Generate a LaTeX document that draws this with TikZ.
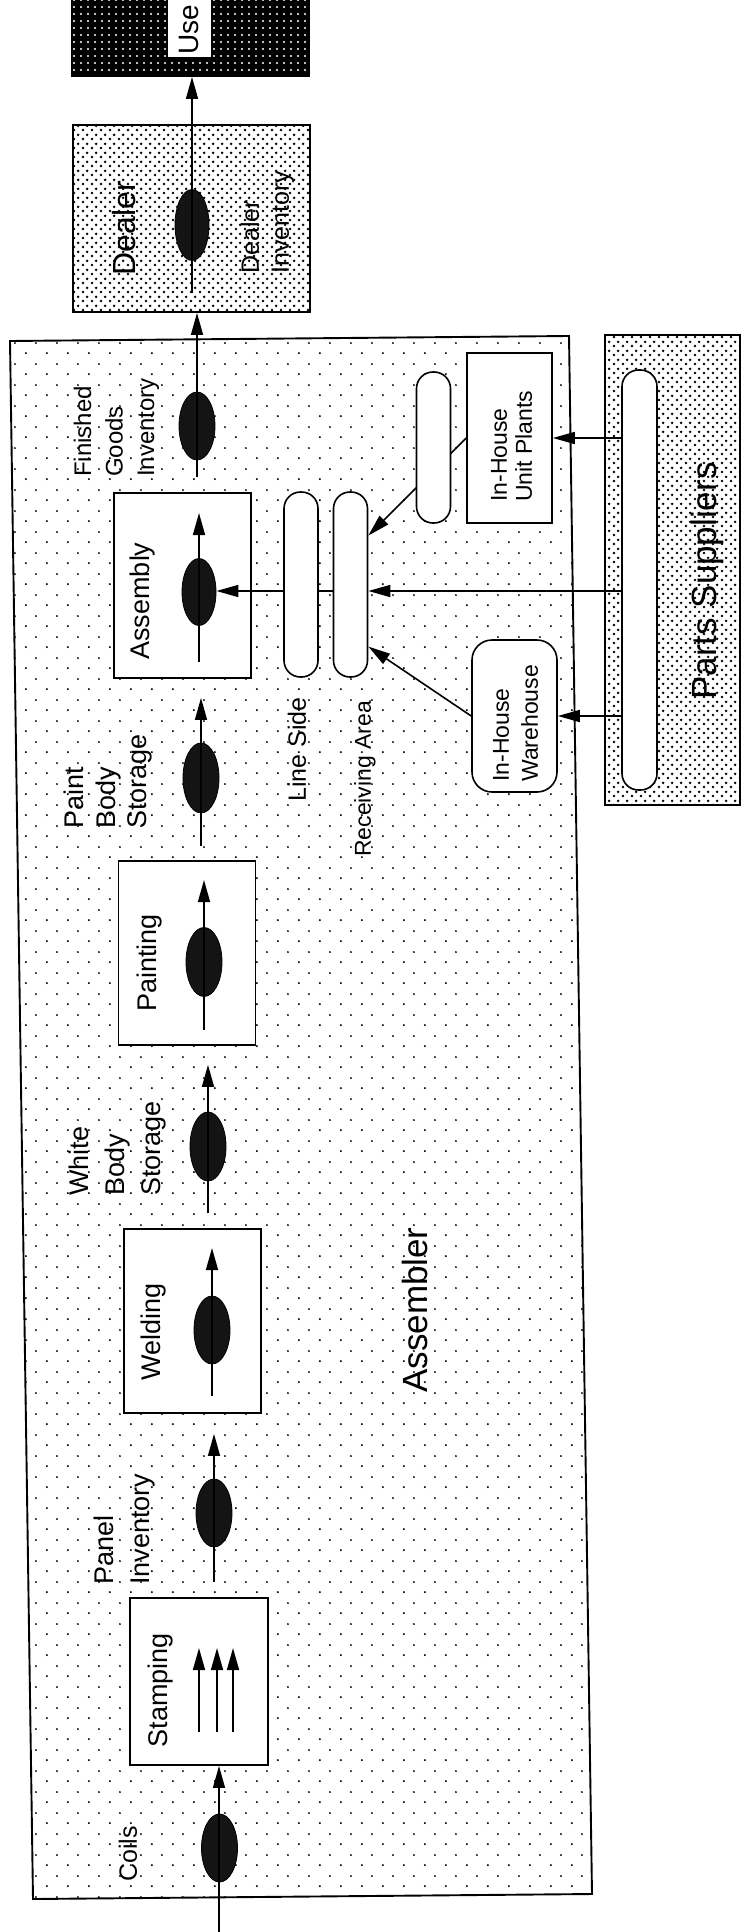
\documentclass[tikz,border=0pt]{standalone}
\usepackage{fontspec}
\setmainfont{Liberation Sans}
\usetikzlibrary{arrows.meta,patterns,shapes.geometric}
\pgfdeclarepatternformonly{sparsedots}{\pgfpointorigin}{\pgfpoint{20.5pt}{20.5pt}}{\pgfpoint{20.5pt}{20.5pt}}{%
  \pgfpathcircle{\pgfpoint{5pt}{5pt}}{1.05pt}\pgfpathcircle{\pgfpoint{15.25pt}{15.25pt}}{1.05pt}\pgfusepath{fill}}
\pgfdeclarepatternformonly{densedots}{\pgfpointorigin}{\pgfpoint{9pt}{9pt}}{\pgfpoint{9pt}{9pt}}{%
  \pgfpathcircle{\pgfpoint{2.25pt}{2.25pt}}{1.55pt}\pgfpathcircle{\pgfpoint{6.75pt}{6.75pt}}{1.55pt}\pgfusepath{fill}}
\pgfdeclarepatternformonly{finedots}{\pgfpointorigin}{\pgfpoint{6.5pt}{6.5pt}}{\pgfpoint{6.5pt}{6.5pt}}{%
  \pgfpathcircle{\pgfpoint{3.25pt}{3.25pt}}{1.2pt}\pgfusepath{fill}}
\newcommand\myfs[2]{\fontsize{#1}{#2}\selectfont}
\begin{document}
\begin{tikzpicture}[x=1pt,y=-1pt,
  flow/.style={line width=1.6pt,-{Triangle[length=22pt,width=12pt]}},
  plain/.style={line width=1.6pt},
  procbox/.style={draw,line width=1.9pt,fill=white,inner sep=0pt,minimum width=137pt},
  inv/.style={ellipse,draw=black,line width=0.8pt,fill=black!92,inner sep=0pt,minimum width=36pt,minimum height=68pt},
  pill/.style={draw,line width=1.6pt,fill=white,rounded corners=16.5pt,inner sep=0pt,minimum width=34pt},
  rlab/.style={rotate=90,align=left,inner sep=0pt,anchor=west},
  clab/.style={rotate=90,align=center,inner sep=0pt},
]
\clip (0,0) rectangle (743,1932);
\fill[white] (0,0) rectangle (743,1932);

% Assembler area
\filldraw[fill=white,line width=1.9pt,postaction={pattern=sparsedots}]
  (10,341) -- (569,336) -- (592,1894) -- (33,1899) -- cycle;

% outer boxes
\node (parts) [draw,line width=1.9pt,fill=white,postaction={pattern=densedots},
  minimum width=135pt,minimum height=470pt,inner sep=0pt] at (672.5,570) {};
\node (dealer) [draw,line width=1.9pt,fill=white,postaction={pattern=densedots},
  minimum width=237pt,minimum height=187pt,inner sep=0pt] at (191.5,218.5) {};
\node (use) [draw,line width=1.9pt,fill=black,postaction={pattern=finedots,pattern color=white},
  minimum width=237pt,minimum height=86pt,inner sep=0pt] at (190.5,33) {};

% process boxes
\node (assembly) [procbox,minimum height=185pt] at (182.5,585.5) {};
\node (painting) [procbox,minimum height=184pt] at (187,953) {};
\node (welding) [procbox,minimum height=184pt] at (192.5,1321) {};
\node (stamping) [procbox,minimum width=138pt,minimum height=167pt] at (199,1681.5) {};

% parts side
\node (lside) [pill,minimum height=185pt] at (301,584.5) {};
\node (recv) [pill,minimum height=185pt] at (350.5,584.5) {};
\node (ppill) [pill,minimum width=35pt,minimum height=420pt] at (639.5,580) {};
\node (unit) [draw,line width=1.6pt,fill=white,minimum width=85pt,minimum height=170pt,inner sep=0pt] at (509.5,438) {};
\node (ware) [draw,line width=1.6pt,fill=white,rounded corners=20pt,minimum width=85pt,minimum height=152pt,inner sep=0pt] at (514.5,716) {};

% inventories
\node (cinv) [inv] at (219.5,1848) {};
\node (pinv) [inv] at (214,1513) {};
\node (winv) [inv] at (212,1330) {};
\node (wbinv) [inv,minimum height=69pt] at (208,1146.5) {};
\node (pnv) [inv,minimum height=69pt] at (204,962) {};
\node (pbinv) [inv,minimum height=70pt] at (201,778) {};
\node (ainv) [inv,minimum width=34pt,minimum height=67pt] at (199,592) {};
\node (fginv) [inv] at (197,426) {};
\node (dinv) [inv,minimum width=34pt,minimum height=71pt] at (192,225) {};

% parts flows
\coordinate (hy) at (0,591);
\draw[flow] (ppill.west |- unit.east) -- (unit.east);
\draw[flow] (ppill.west |- ware.east) -- (ware.east);
\draw[flow] (ppill.west |- hy) -- (recv.east |- hy);
\draw[plain] (recv.west |- hy) -- (lside.east |- hy);
\draw[flow] (lside.west |- hy) -- (ainv.east |- hy);
\draw[flow] (unit.west) -- (recv.70);
\draw[flow] (ware.west) -- (recv.-74);
\node (upill) [pill,minimum height=151pt] at (433.5,447.5) {};

% main flow
\coordinate (ctail) at (219,1940);
\draw[flow] (ctail) -- (ctail |- stamping.south);
\coordinate (ptail) at (214,1582);
\draw[flow,shorten >=20pt] (ptail) -- (ptail |- welding.south);
\coordinate (wtail) at (208,1213);
\draw[flow,shorten >=19pt] (wtail) -- (wtail |- painting.south);
\coordinate (btail) at (201,846);
\draw[flow,shorten >=19pt] (btail) -- (btail |- assembly.south);
\coordinate (ftail) at (197,477);
\draw[flow] (ftail) -- (ftail |- dealer.south);
\coordinate (dtail) at (192,293);
\draw[flow] (dtail) -- (dtail |- use.south);

% arrows inside process boxes
\coordinate (aA) at (199,662); \coordinate (aB) at (199,513);
\draw[flow] (aA) -- (aB);
\coordinate (pA) at (204,1030); \coordinate (pB) at (204,880);
\draw[flow] (pA) -- (pB);
\coordinate (wA) at (212,1396); \coordinate (wB) at (212,1248);
\draw[flow] (wA) -- (wB);
\coordinate (s1A) at (199,1732); \coordinate (s1B) at (199,1648);
\coordinate (s2A) at (217,1732); \coordinate (s2B) at (217,1648);
\coordinate (s3A) at (233,1732); \coordinate (s3B) at (233,1648);
\draw[flow] (s1A) -- (s1B);
\draw[flow] (s2A) -- (s2B);
\draw[flow] (s3A) -- (s3B);

% labels
\node (lcoils) [rlab,font=\myfs{25}{30}] at (128,1882) {Coils};
\node (lpanel) [rlab,font=\myfs{27}{36}] at (125,1585) {Panel\\Inventory};
\node (lstamp) [clab,font=\myfs{27}{30}] at (161,1690) {Stamping};
\node (lweld) [clab,font=\myfs{27}{30}] at (154,1332) {Welding};
\node (lwhite) [rlab,font=\myfs{27}{36}] at (118,1196) {White\\Body\\Storage};
\node (lpaint) [clab,font=\myfs{27}{30}] at (150,963) {Painting};
\node (lpbs) [rlab,font=\myfs{27}{31.5}] at (108.5,829) {Paint\\Body\\Storage};
\node (lassy) [clab,font=\myfs{27}{30}] at (143,601) {Assembly};
\node (lfg) [rlab,font=\myfs{24}{31.5}] at (116.5,477) {Finished\\Goods\\Inventory};
\node (ldealer) [clab,font=\myfs{32}{34}] at (124,228) {Dealer};
\node (ldinv) [rlab,font=\myfs{25}{30}] at (267.5,274) {Dealer\\Inventory};
\node (luse) [rlab,fill=white,inner xsep=2pt,minimum height=43pt,text width=62pt,font=\myfs{28}{30}] at (189,57) {Use};
\node (lline) [rlab,font=\myfs{25}{28}] at (297,802) {Line Side};
\node (lrecv) [rlab,font=\myfs{23}{26}] at (365,857) {Receiving Area};
\node (lunit) [rlab,font=\myfs{23}{25}] at (511.5,502) {In-House\\Unit Plants};
\node (lware) [rlab,font=\myfs{23}{29}] at (515.5,782) {In-House\\Warehouse};
\node (lasm) [clab,font=\myfs{35}{38}] at (415,1310) {Assembler};
\node (lparts) [clab,font=\myfs{35}{38}] at (707,581) {Parts Suppliers};
\end{tikzpicture}
\end{document}
